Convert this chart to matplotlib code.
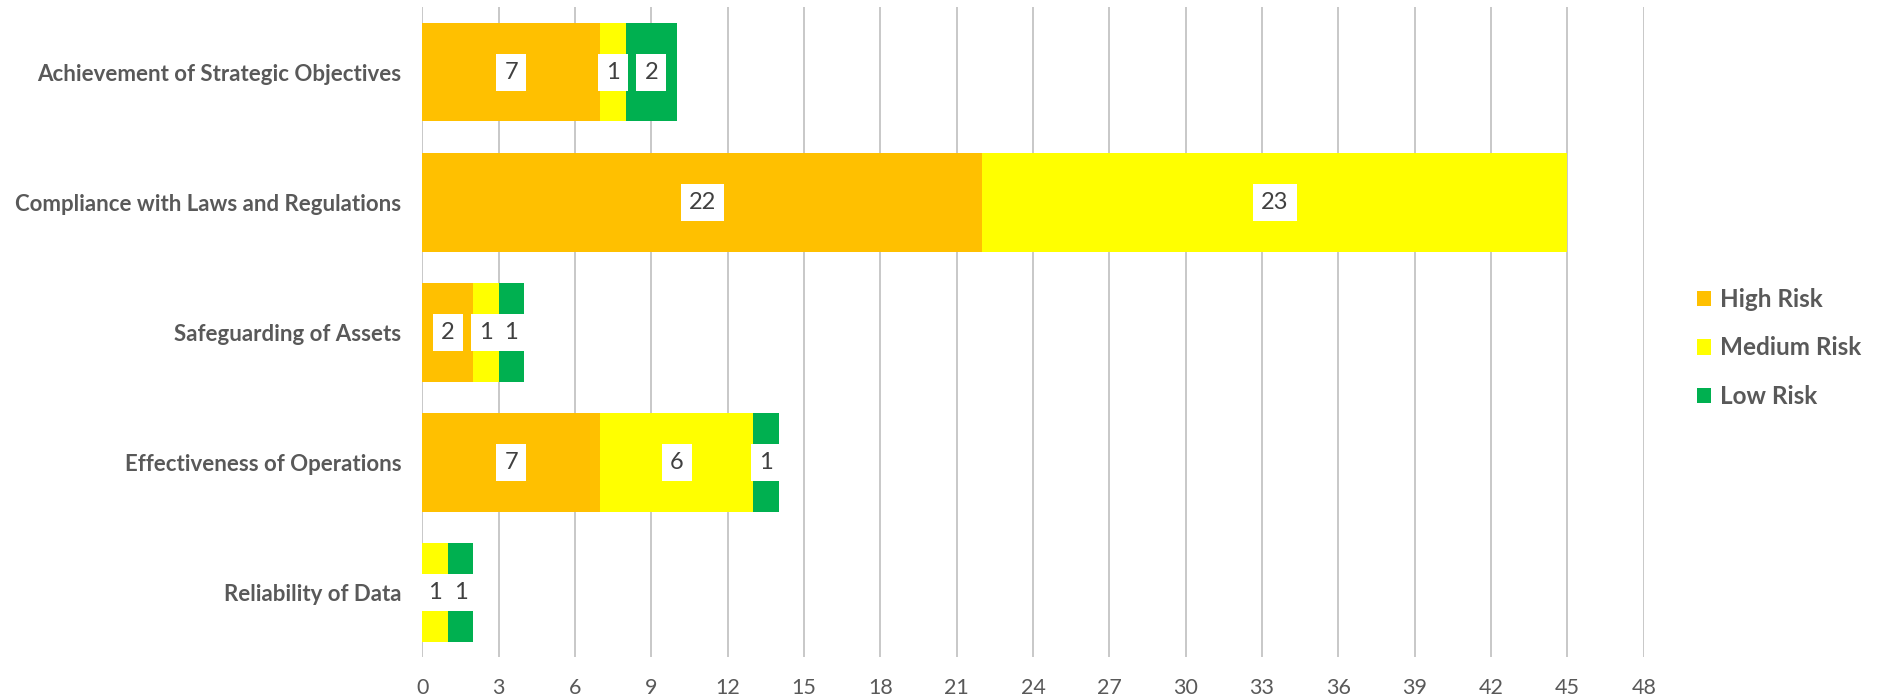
import matplotlib.pyplot as plt
import numpy as np

categories = ["Achievement of Strategic Objectives", "Compliance with Laws and Regulations",
              "Safeguarding of Assets", "Effectiveness of Operations", "Reliability of Data"]
high = [7, 22, 2, 7, 0]
medium = [1, 23, 1, 6, 1]
low = [2, 0, 1, 1, 1]
series = ["High Risk", "Medium Risk", "Low Risk"]
colors = ["#FFC000", "#FFFF00", "#00B050"]
ticks = list(range(0, 49, 3))

text_color = "#595959"
plt.rcParams["font.family"] = ["Lato", "DejaVu Sans"]

fig = plt.figure(figsize=(18.85, 7), dpi=100)
ax = fig.add_axes([0.224, 0.061, 0.648, 0.929])

y = np.arange(len(categories))
left = np.zeros(len(categories))
for name, vals, c in zip(series, [high, medium, low], colors):
    vals = np.array(vals)
    ax.barh(y, vals, left=left, height=0.76, color=c, label=name, zorder=2)
    # value labels in white boxes, centred on each segment
    for yi, v, l in zip(y, vals, left):
        if v > 0:
            ax.text(l + v / 2, yi, str(v), ha="center", va="center", fontsize=17,
                    color="#404040", zorder=3,
                    bbox=dict(boxstyle="square,pad=0.34", fc="white", ec="none"))
    left = left + vals

ax.set_xlim(0, 48)
ax.set_ylim(len(categories) - 0.5, -0.5)
ax.set_xticks(ticks)
ax.set_xticklabels([str(t) for t in ticks], fontsize=15.5, color=text_color)
ax.set_yticks(y)
ax.set_yticklabels(categories, fontsize=16, fontweight="bold", color=text_color)
ax.tick_params(axis="both", length=0)
ax.tick_params(axis="x", pad=15)
ax.tick_params(axis="y", pad=15)
ax.grid(axis="x", color="#BFBFBF", linewidth=1.2, zorder=0)
for s in ax.spines.values():
    s.set_visible(False)

leg = ax.legend(loc="center left", bbox_to_anchor=(0.900, 0.503), bbox_transform=fig.transFigure,
                frameon=False, fontsize=17.5, handlelength=0.6, handleheight=0.6,
                handletextpad=0.35, labelspacing=1.05, borderpad=0, borderaxespad=0)
for t in leg.get_texts():
    t.set_color(text_color)
    t.set_fontweight("bold")

fig.savefig("out.png", dpi=100)
